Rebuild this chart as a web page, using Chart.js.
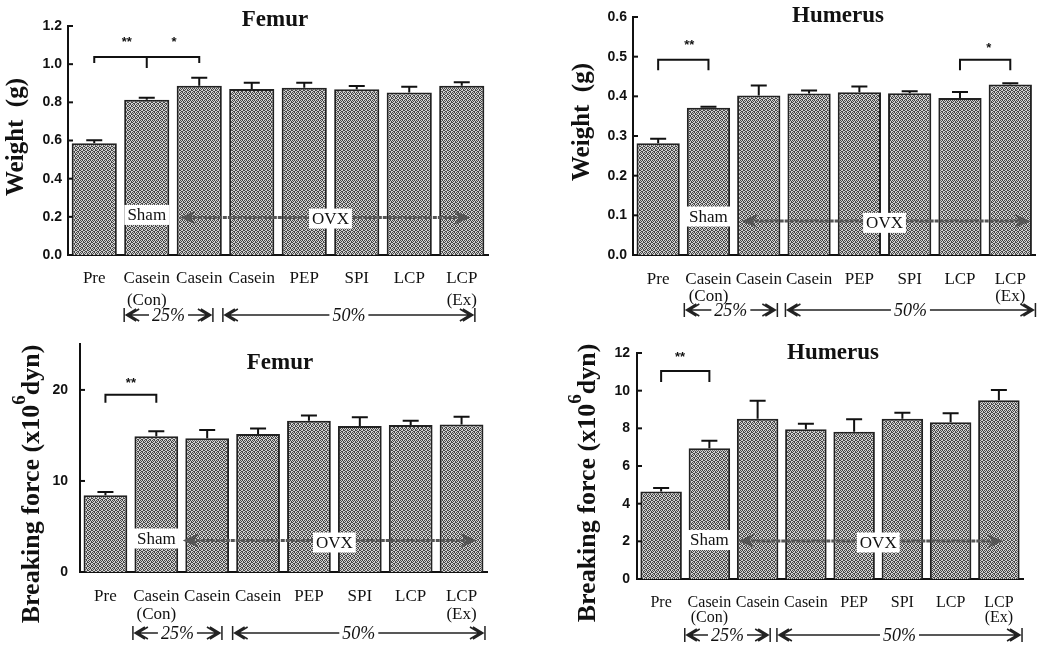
<!DOCTYPE html>
<html>
<head>
<meta charset="utf-8">
<script src="https://cdn.jsdelivr.net/npm/chart.js@4/dist/chart.umd.min.js"></script>
<style>
body{margin:0;background:#fff;width:1042px;height:650px;position:relative;overflow:hidden}
canvas{position:absolute}
</style>
</head>
<body>
<canvas id="c1" width="520" height="330" style="left:0;top:0"></canvas>
<canvas id="c2" width="522" height="330" style="left:520px;top:0"></canvas>
<canvas id="c3" width="520" height="326" style="left:0;top:324px"></canvas>
<canvas id="c4" width="522" height="320" style="left:520px;top:330px"></canvas>
<script>
"use strict"
// groups on the x axis (same for all four panels)
var categories = [["Pre"],["Casein","(Con)"],["Casein"],["Casein"],["PEP"],["SPI"],["LCP"],["LCP","(Ex)"]];

// bone weight (g), mean and SEM
var femurWeight      = [0.585,0.814,0.887,0.870,0.877,0.868,0.851,0.887];
var femurWeightSem   = [0.016,0.010,0.042,0.033,0.026,0.018,0.031,0.018];
var humerusWeight    = [0.282,0.371,0.402,0.407,0.410,0.408,0.396,0.430];
var humerusWeightSem = [0.011,0.003,0.025,0.008,0.015,0.005,0.015,0.003];

// breaking force (x10^6 dyn), mean and SEM
var femurForce      = [8.43,14.90,14.70,15.17,16.60,16.03,16.15,16.20];
var femurForceSem   = [0.36,0.56,0.90,0.58,0.60,0.97,0.45,0.85];
var humerusForce    = [4.64,6.94,8.51,7.95,7.82,8.51,8.32,9.49];
var humerusForceSem = [0.19,0.40,0.96,0.30,0.66,0.32,0.48,0.55];

// tick labels
var femurWeightTicks   = [0,0.2,0.4,0.6,0.8,1.0,1.2];
var humerusWeightTicks = [0,0.1,0.2,0.3,0.4,0.5,0.6];
var femurForceTicks    = [0,10,20];
var humerusForceTicks  = [0,2,4,6,8,10,12];

var SERIF = "'Liberation Serif', 'Times New Roman', serif";
var SANS = "'Liberation Sans', Arial, sans-serif";
var forceTitle = [
  {t:"Breaking force (x10", font:"bold 26px " + SERIF},
  {t:"6", font:"bold 19px " + SERIF, dy:-12},
  {t:"dyn)", font:"bold 26px " + SERIF}
];
var weightTitle = [{t:"Weight  (g)", font:"bold 25px " + SERIF}];

// per panel layout (looked up by canvas id, kept out of chart options)
var panels = {
  c1: {values:femurWeight, sem:femurWeightSem, ticks:femurWeightTicks, max:1.2, dec:1,
       yw:68, xh:75, top:26, right:32, tickPad:6, catSize:17, catLH:1.3, catPad:12,
       title:"Femur", tx:275, ty:20, ytitle:weightTitle, yx:17, yy:137,
       brackets:[{a:0,b:2,mid:1,y:1.037,drop:1.006,midDrop:0.98}],
       stars:[{i:0.62,y:1.116,t:"**"},{i:1.52,y:1.116,t:"*"}],
       shamY:0.21, ovxY:0.191, arrowY:0.196, arrowA:1.63, arrowB:7.16,
       rangeDy:60, r25:[0.57,2.26], r50:[2.45,7.25]},
  c2: {values:humerusWeight, sem:humerusWeightSem, ticks:humerusWeightTicks, max:0.6, dec:1,
       yw:113, xh:75, top:17, right:2, tickPad:6, catSize:17, catLH:1.0, catPad:16,
       title:"Humerus", tx:318, ty:16, ytitle:weightTitle, yx:63, yy:122,
       brackets:[{a:0,b:1,y:0.492,drop:0.466},{a:6,b:7,y:0.492,drop:0.466}],
       stars:[{i:0.62,y:0.529,t:"**"},{i:6.57,y:0.522,t:"*"}],
       shamY:0.097, ovxY:0.081, arrowY:0.086, arrowA:1.66, arrowB:7.4,
       rangeDy:55, r25:[0.52,2.37], r50:[2.53,7.5]},
  c3: {values:femurForce, sem:femurForceSem, ticks:femurForceTicks, max:25, dec:0,
       yw:80, xh:78, top:19, right:33, tickPad:12, catSize:17, catLH:1.06, catPad:16,
       title:"Femur", tx:280, ty:39, ytitle:forceTitle, yx:32, yy:160,
       brackets:[{a:0,b:1,y:19.46,drop:18.6}],
       stars:[{i:0.5,y:20.75,t:"**"}],
       shamY:3.68, ovxY:3.24, arrowY:3.45, arrowA:1.52, arrowB:7.3,
       rangeDy:61, r25:[0.54,2.29], r50:[2.5,7.46]},
  c4: {values:humerusForce, sem:humerusForceSem, ticks:humerusForceTicks, max:12, dec:0,
       yw:117, xh:71, top:23, right:19, tickPad:7, catSize:16, catLH:0.95, catPad:16,
       title:"Humerus", tx:313, ty:23, ytitle:forceTitle, yx:68, yy:153,
       brackets:[{a:0,b:1,y:11.05,drop:10.46}],
       stars:[{i:0.39,y:11.79,t:"**"}],
       shamY:2.07, ovxY:1.94, arrowY:2.02, arrowA:1.6, arrowB:7.09,
       rangeDy:56, r25:[0.49,2.26], r50:[2.4,7.48]}
};

function idxX(chart, i) {
  var s = chart.scales.x, p0 = s.getPixelForValue(0), p1 = s.getPixelForValue(1);
  return p0 + i * (p1 - p0);
}
function valY(chart, v) { return chart.scales.y.getPixelForValue(v); }

function rotTitle(ctx, parts, x, y) {
  ctx.save();
  ctx.translate(x, y);
  ctx.rotate(-Math.PI / 2);
  ctx.textAlign = "left";
  ctx.textBaseline = "middle";
  var total = 0;
  parts.forEach(function(p) { ctx.font = p.font; total += ctx.measureText(p.t).width; });
  var cx = -total / 2;
  parts.forEach(function(p) {
    ctx.font = p.font;
    ctx.fillText(p.t, cx, p.dy || 0);
    cx += ctx.measureText(p.t).width;
  });
  ctx.restore();
}

function labelBox(ctx, text, cx, cy) {
  ctx.font = "17px " + SERIF;
  var w = ctx.measureText(text).width + 6;
  ctx.fillStyle = "#fff";
  ctx.fillRect(cx - w / 2, cy - 10, w, 20);
  ctx.fillStyle = "#111";
  ctx.textAlign = "center";
  ctx.textBaseline = "middle";
  ctx.fillText(text, cx, cy + 1);
}

function ovxArrow(ctx, x1, x2, y) {
  ctx.strokeStyle = "#555";
  ctx.fillStyle = "#555";
  ctx.lineWidth = 3;
  ctx.setLineDash([4, 1]);
  ctx.beginPath(); ctx.moveTo(x1 + 8, y); ctx.lineTo(x2 - 8, y); ctx.stroke();
  ctx.setLineDash([]);
  ctx.beginPath();
  ctx.moveTo(x1, y); ctx.lineTo(x1 + 16, y - 7); ctx.lineTo(x1 + 11, y); ctx.lineTo(x1 + 16, y + 7); ctx.closePath();
  ctx.moveTo(x2, y); ctx.lineTo(x2 - 16, y - 7); ctx.lineTo(x2 - 11, y); ctx.lineTo(x2 - 16, y + 7); ctx.closePath();
  ctx.fill();
}

function rangeArrow(ctx, x1, x2, y, label) {
  ctx.font = "italic 18px " + SERIF;
  var tw = ctx.measureText(label).width, mid = (x1 + x2) / 2;
  ctx.strokeStyle = "#222";
  ctx.lineWidth = 1.5;
  ctx.beginPath();
  ctx.moveTo(x1, y - 7); ctx.lineTo(x1, y + 7);
  ctx.moveTo(x2, y - 7); ctx.lineTo(x2, y + 7);
  ctx.moveTo(x1 + 12, y - 6); ctx.lineTo(x1 + 2, y); ctx.lineTo(x1 + 12, y + 6);
  ctx.moveTo(x1 + 15, y - 6); ctx.lineTo(x1 + 5, y); ctx.lineTo(x1 + 15, y + 6);
  ctx.moveTo(x2 - 12, y - 6); ctx.lineTo(x2 - 2, y); ctx.lineTo(x2 - 12, y + 6);
  ctx.moveTo(x2 - 15, y - 6); ctx.lineTo(x2 - 5, y); ctx.lineTo(x2 - 15, y + 6);
  ctx.moveTo(x1 + 2, y); ctx.lineTo(mid - tw / 2 - 3, y);
  ctx.moveTo(mid + tw / 2 + 3, y); ctx.lineTo(x2 - 2, y);
  ctx.stroke();
  ctx.fillStyle = "#111";
  ctx.textAlign = "center";
  ctx.textBaseline = "middle";
  ctx.fillText(label, mid, y + 1);
}

var extras = {
  id: "extras",
  afterDraw: function(chart) {
    var o = panels[chart.canvas.id], ctx = chart.ctx, area = chart.chartArea;
    ctx.save();
    // error bars (upper half only)
    ctx.strokeStyle = "#111";
    ctx.lineWidth = 2;
    o.values.forEach(function(v, i) {
      var x = idxX(chart, i), y1 = valY(chart, v), y2 = valY(chart, v + o.sem[i]);
      ctx.beginPath();
      ctx.moveTo(x, y1); ctx.lineTo(x, y2);
      ctx.moveTo(x - 8, y2); ctx.lineTo(x + 8, y2);
      ctx.stroke();
    });
    // inward tick marks
    o.ticks.forEach(function(t) {
      var y = valY(chart, t);
      ctx.beginPath(); ctx.moveTo(area.left, y); ctx.lineTo(area.left + 5, y); ctx.stroke();
    });
    // significance brackets
    o.brackets.forEach(function(b) {
      var xa = idxX(chart, b.a), xb = idxX(chart, b.b), y = valY(chart, b.y), yd = valY(chart, b.drop);
      ctx.beginPath();
      ctx.moveTo(xa, yd); ctx.lineTo(xa, y); ctx.lineTo(xb, y); ctx.lineTo(xb, yd);
      if (b.mid !== undefined) {
        var xm = idxX(chart, b.mid);
        ctx.moveTo(xm, y); ctx.lineTo(xm, valY(chart, b.midDrop));
      }
      ctx.stroke();
    });
    ctx.fillStyle = "#111";
    ctx.font = "bold 13px " + SANS;
    ctx.textAlign = "center";
    ctx.textBaseline = "middle";
    o.stars.forEach(function(s) { ctx.fillText(s.t, idxX(chart, s.i), valY(chart, s.y)); });
    // Sham / OVX annotations
    ovxArrow(ctx, idxX(chart, o.arrowA), idxX(chart, o.arrowB), valY(chart, o.arrowY));
    labelBox(ctx, "Sham", idxX(chart, 1), valY(chart, o.shamY));
    labelBox(ctx, "OVX", idxX(chart, 4.5), valY(chart, o.ovxY));
    // protein level ranges below the axis
    var ry = area.bottom + o.rangeDy;
    rangeArrow(ctx, idxX(chart, o.r25[0]), idxX(chart, o.r25[1]), ry, "25%");
    rangeArrow(ctx, idxX(chart, o.r50[0]), idxX(chart, o.r50[1]), ry, "50%");
    // titles
    ctx.fillStyle = "#111";
    ctx.font = "bold 23px " + SERIF;
    ctx.textAlign = "center";
    ctx.textBaseline = "middle";
    ctx.fillText(o.title, o.tx, o.ty);
    rotTitle(ctx, o.ytitle, o.yx, o.yy);
    ctx.restore();
  }
};

// dithered grey fill like the printed bars
var dither = ["1010","0101","1001","0110"];
function hatchFor(canvas) {
  var tile = document.createElement("canvas");
  tile.width = 4; tile.height = 4;
  var tc = tile.getContext("2d");
  dither.forEach(function(row, r) {
    row.split("").forEach(function(c, k) {
      tc.fillStyle = c === "1" ? "#474747" : "#d2d2d2";
      tc.fillRect(k, r, 1, 1);
    });
  });
  return canvas.getContext("2d").createPattern(tile, "repeat");
}

function makeChart(id) {
  var o = panels[id], canvas = document.getElementById(id);
  return new Chart(canvas, {
    type: "bar",
    data: {
      labels: categories,
      datasets: [{
        data: o.values,
        backgroundColor: hatchFor(canvas),
        borderColor: "#222",
        borderWidth: 2,
        barPercentage: 0.86,
        categoryPercentage: 1
      }]
    },
    options: {
      responsive: false,
      animation: false,
      events: [],
      layout: {padding: {top: o.top, right: o.right, left: 0, bottom: 0}},
      plugins: {legend: {display: false}, tooltip: {enabled: false}},
      scales: {
        x: {
          grid: {display: false, drawTicks: false},
          border: {color: "#111", width: 2},
          ticks: {
            color: "#111",
            font: {family: SERIF, size: o.catSize, lineHeight: o.catLH},
            padding: o.catPad, maxRotation: 0, minRotation: 0, autoSkip: false
          },
          afterFit: function(s) { s.height = o.xh; }
        },
        y: {
          min: 0, max: o.max,
          grid: {display: false, drawTicks: false},
          border: {color: "#111", width: 2},
          ticks: {
            color: "#111",
            font: {family: SANS, weight: "bold", size: 14},
            padding: o.tickPad,
            callback: function(v) { return v.toFixed(o.dec); }
          },
          afterBuildTicks: function(s) { s.ticks = o.ticks.map(function(v) { return {value: v}; }); },
          afterFit: function(s) { s.width = o.yw; }
        }
      }
    },
    plugins: [extras]
  });
}

["c1", "c2", "c3", "c4"].forEach(makeChart);
</script>
</body>
</html>
